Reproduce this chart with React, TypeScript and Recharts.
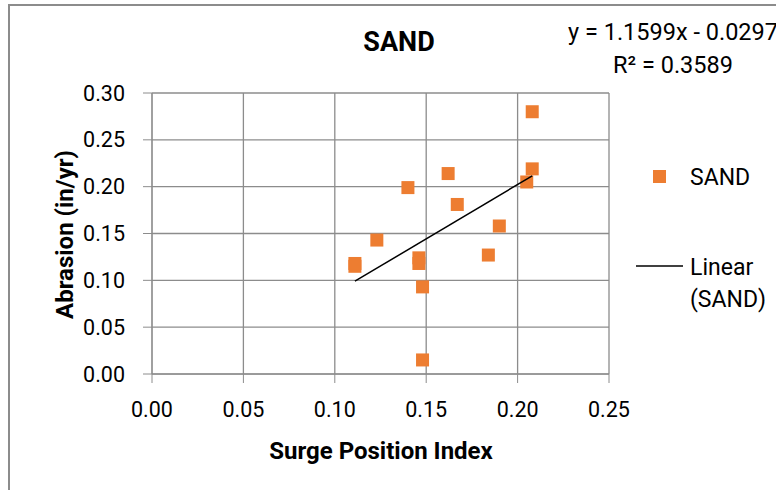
import React from 'react';
import { ScatterChart, Scatter, XAxis, YAxis, CartesianGrid, Legend } from 'recharts';

// surge position index vs abrasion
const sandX = [0.208, 0.208, 0.205, 0.162, 0.140, 0.167, 0.190, 0.123, 0.111, 0.111, 0.146, 0.146, 0.184, 0.148, 0.148];
const sandY = [0.280, 0.219, 0.205, 0.214, 0.199, 0.181, 0.158, 0.143, 0.118, 0.115, 0.124, 0.118, 0.127, 0.093, 0.015];

// Excel linear trendline
const slope = 1.1599;
const intercept = -0.0297;
const rSquared = 0.3589;

const xTicks = [0, 0.05, 0.1, 0.15, 0.2, 0.25];
const yTicks = [0, 0.05, 0.1, 0.15, 0.2, 0.25, 0.3];

const sandData = sandX.map((x, i) => ({ x, y: sandY[i] }));
const trendX = [Math.min(...sandX), Math.max(...sandX)];
const trendData = trendX.map((x) => ({ x, y: slope * x + intercept }));

const FONT = 'Roboto, "DejaVu Sans", sans-serif';
const GRID = '#8c8c8c';
const ORANGE = '#ED7D31';

const SquareDot = (props: any) => {
  const { cx, cy } = props;
  if (cx == null || cy == null) return <g />;
  return <rect x={cx - 6.5} y={cy - 6.5} width={13} height={13} fill={ORANGE} />;
};

const LegendBox = (props: any) => {
  const payload = props.payload || [];
  const sand = payload.find((p: any) => p.type !== 'line');
  const lin = payload.find((p: any) => p.type === 'line');
  const linWords = lin ? String(lin.value).split(' ') : [];
  return (
    <svg width={146} height={170} style={{ display: 'block', fontFamily: FONT }}>
      {sand && (
        <g>
          <rect x={23} y={20} width={13} height={13} fill={ORANGE} />
          <text x={60} y={35} fontSize={23} fill="#000">{sand.value}</text>
        </g>
      )}
      {lin && (
        <g>
          <line x1={6} x2={53} y1={116} y2={116} stroke="#000" strokeWidth={1.5} />
          {linWords.map((w: string, i: number) => (
            <text key={w} x={60} y={125 + i * 32} fontSize={23} fill="#000">{w}</text>
          ))}
        </g>
      )}
    </svg>
  );
};

export default function App() {
  return (
    <div style={{ position: 'absolute', left: 0, top: 0, width: 776, height: 490, overflow: 'hidden', background: '#fff' }}>
      <div
        style={{
          position: 'absolute',
          left: 8,
          top: 4,
          width: 800,
          height: 520,
          borderLeft: `2px solid ${GRID}`,
          borderTop: `2px solid ${GRID}`,
        }}
      />
      <div style={{ position: 'absolute', left: 0, top: 0 }}>
        <ScatterChart width={776} height={490} margin={{ top: 93, right: 167, bottom: 56, left: 0 }}>
          <CartesianGrid stroke={GRID} strokeWidth={1.3} />
          <XAxis
            type="number"
            dataKey="x"
            domain={[0, 0.25]}
            ticks={xTicks}
            tickFormatter={(v: number) => v.toFixed(2)}
            height={60}
            tickSize={9}
            tickMargin={19}
            stroke={GRID}
            tick={{ fill: '#000', fontSize: 21.5, fontFamily: FONT }}
          />
          <YAxis
            type="number"
            dataKey="y"
            domain={[0, 0.3]}
            ticks={yTicks}
            tickFormatter={(v: number) => v.toFixed(2)}
            width={152}
            tickSize={9}
            tickMargin={18}
            stroke={GRID}
            tick={{ fill: '#000', fontSize: 21.5, fontFamily: FONT }}
          />
          <Scatter name="SAND" data={sandData} fill={ORANGE} shape={SquareDot} legendType="square" isAnimationActive={false} />
          <Scatter
            name="Linear (SAND)"
            data={trendData}
            fill="#000"
            line={{ stroke: '#000', strokeWidth: 1.5 }}
            shape={() => <g />}
            legendType="line"
            isAnimationActive={false}
          />
          <Legend
            layout="vertical"
            align="center"
            verticalAlign="middle"
            content={LegendBox}
            wrapperStyle={{ left: 630, top: 150, width: 146, height: 170 }}
          />
        </ScatterChart>
      </div>
      <svg width={776} height={490} style={{ position: 'absolute', left: 0, top: 0, pointerEvents: 'none', fontFamily: FONT }}>
        <text x={399} y={51} textAnchor="middle" fontSize={27} fontWeight="bold" fill="#000">SAND</text>
        <text x={673} y={40} textAnchor="middle" fontSize={23.5} fill="#000">
          {`y = ${slope}x - ${Math.abs(intercept).toFixed(4)}`}
        </text>
        <text x={673} y={73} textAnchor="middle" fontSize={23.5} fill="#000">
          {`R² = ${rSquared}`}
        </text>
        <text x={381} y={459} textAnchor="middle" fontSize={24} fontWeight="bold" fill="#000">Surge Position Index</text>
        <text transform="translate(73,234.5) rotate(-90)" textAnchor="middle" fontSize={24} fontWeight="bold" fill="#000">
          Abrasion (in/yr)
        </text>
      </svg>
    </div>
  );
}
